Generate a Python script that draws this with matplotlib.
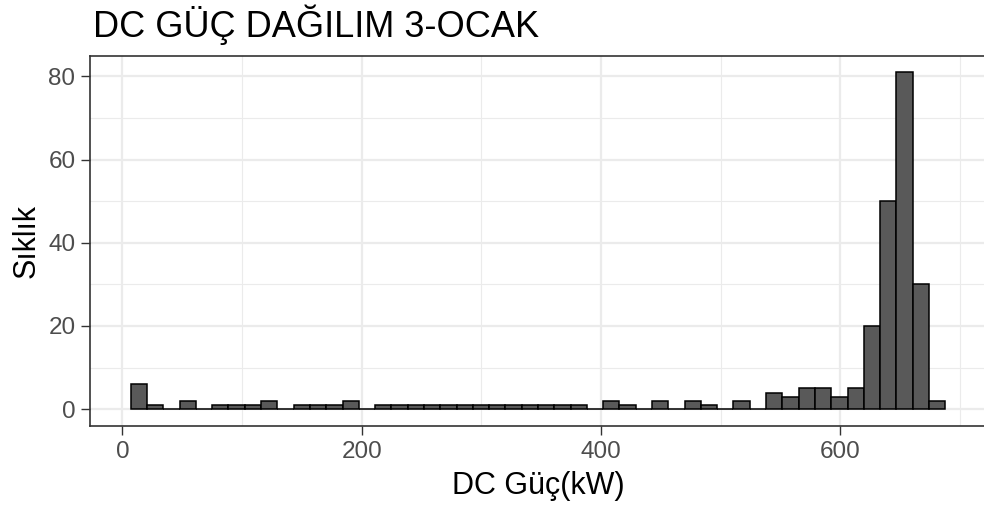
import matplotlib
matplotlib.use("Agg")
import matplotlib.pyplot as plt
import numpy as np

# histogram: 50 bins from ~6.9 to ~687.8 kW
bin_lo = 6.9
bin_hi = 687.8
counts = [6, 1, 0, 2, 0, 1, 1, 1, 2, 0,
          1, 1, 1, 2, 0, 1, 1, 1, 1, 1,
          1, 1, 1, 1, 1, 1, 1, 1, 0, 2,
          1, 0, 2, 0, 2, 1, 0, 2, 0, 4,
          3, 5, 5, 3, 5, 20, 50, 81, 30, 2]
x_ticks = [0, 200, 400, 600]
y_ticks = [0, 20, 40, 60, 80]

title = "DC GÜÇ DAĞILIM 3-OCAK"
x_label = "DC Güç(kW)"
y_label = "Sıklık"

plt.rcParams['font.family'] = ['Liberation Sans', 'DejaVu Sans']

fig = plt.figure(figsize=(9.84, 5.14), dpi=100)
ax = fig.add_axes([90 / 984, 88 / 514, 896 / 984, 370.5 / 514])

edges = np.linspace(bin_lo, bin_hi, len(counts) + 1)
ax.bar(edges[:-1], counts, width=np.diff(edges), align='edge',
       color='#595959', edgecolor='black', linewidth=1.1, zorder=3)

# ggplot-style 5% expansion
xr = bin_hi - bin_lo
ax.set_xlim(bin_lo - 0.05 * xr, bin_hi + 0.05 * xr)
ymax = max(counts)
ax.set_ylim(-0.05 * ymax, ymax * 1.05)

ax.set_xticks(x_ticks)
ax.set_yticks(y_ticks)
ax.set_xticks([100, 300, 500, 700], minor=True)
ax.set_yticks([10, 30, 50, 70], minor=True)
ax.grid(True, which='major', color='#EBEBEB', linewidth=1.6, zorder=0)
ax.grid(True, which='minor', color='#EBEBEB', linewidth=0.8, zorder=0)
ax.set_axisbelow(True)
ax.tick_params(which='major', length=6.5, width=1.0, color='#333333',
               labelcolor='#4D4D4D', labelsize=17.5, pad=4)
ax.tick_params(which='minor', length=0)

for s in ax.spines.values():
    s.set_color('#333333')
    s.set_linewidth(1.2)

ax.set_xlabel(x_label, fontsize=22, color='black', labelpad=6)
ax.set_ylabel(y_label, fontsize=22, color='black', labelpad=5)
fig.text(93 / 984, 1 - 37 / 514, title, fontsize=26, color='black',
         ha='left', va='baseline')

fig.savefig("out.png", dpi=100, facecolor='white')
